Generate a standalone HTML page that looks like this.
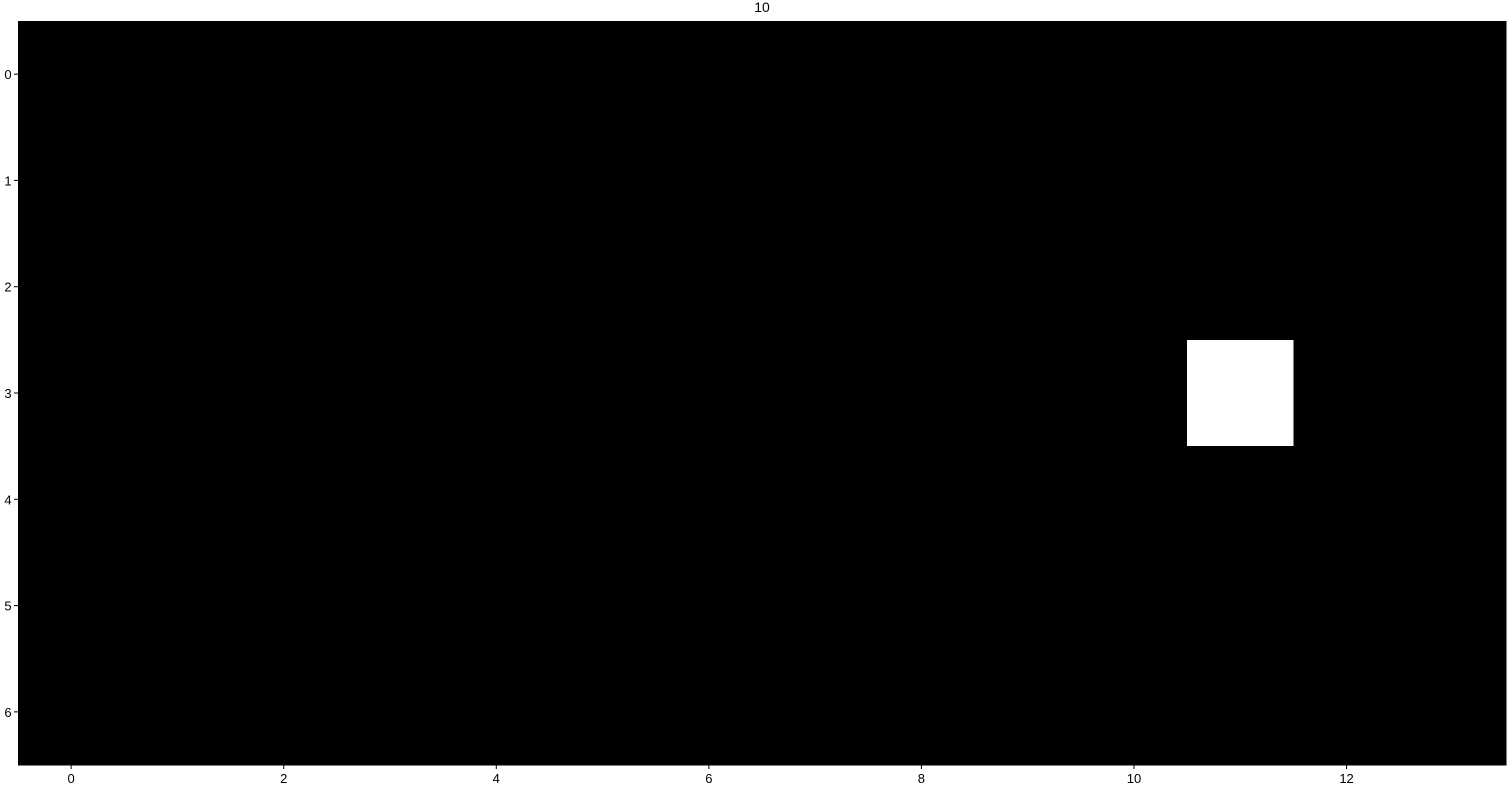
<!DOCTYPE html>
<html><head><meta charset="utf-8"><style>
html,body{margin:0;padding:0;background:#fff;width:1508px;height:785px;overflow:hidden}
text{font-family:"Liberation Sans",sans-serif;fill:#000}
</style></head><body>
<svg id="chart" width="1508" height="785" xmlns="http://www.w3.org/2000/svg">
<text x="762" y="12" font-size="14" text-anchor="middle">10</text>
<g id="cells"></g>
<g id="xticks"></g>
<g id="yticks"></g>
</svg>
<script>
const nCols = 14;
const nRows = 7;
const hotRows = [3];
const hotCols = [11];
const xTickLabels = [0, 2, 4, 6, 8, 10, 12];
const yTickLabels = [0, 1, 2, 3, 4, 5, 6];

const L = 18, T = 21, R = 1506, B = 765;
const cw = (R - L) / nCols, ch = (B - T) / nRows;
const xPos = c => L + (c + 0.5) * cw;
const yPos = r => T + (r + 0.5) * ch;
const NS = "http://www.w3.org/2000/svg";
const cells = document.getElementById('cells');
for (let r = 0; r < nRows; r++) {
  for (let c = 0; c < nCols; c++) {
    let hot = false;
    for (let k = 0; k < hotRows.length; k++) if (hotRows[k] === r && hotCols[k] === c) hot = true;
    const rect = document.createElementNS(NS, 'rect');
    rect.setAttribute('x', xPos(c) - cw / 2);
    rect.setAttribute('y', yPos(r) - ch / 2);
    rect.setAttribute('width', cw + 0.6);
    rect.setAttribute('height', ch + 0.6);
    rect.setAttribute('fill', hot ? '#fff' : '#000');
    rect.setAttribute('shape-rendering', 'crispEdges');
    
    
    cells.appendChild(rect);
  }
}
const xt = document.getElementById('xticks');
xTickLabels.forEach(v => {
  const x = xPos(v);
  const ln = document.createElementNS(NS, 'line');
  ln.setAttribute('x1', x); ln.setAttribute('x2', x);
  ln.setAttribute('y1', B); ln.setAttribute('y2', B + 4);
  ln.setAttribute('stroke', '#000');
  
  
  xt.appendChild(ln);
  const t = document.createElementNS(NS, 'text');
  t.setAttribute('x', x); t.setAttribute('y', B + 18);
  t.setAttribute('font-size', '13'); t.setAttribute('text-anchor', 'middle');
  t.textContent = v;
  
  
  xt.appendChild(t);
});
const yt = document.getElementById('yticks');
yTickLabels.forEach(v => {
  const y = yPos(v);
  const ln = document.createElementNS(NS, 'line');
  ln.setAttribute('x1', L - 4); ln.setAttribute('x2', L);
  ln.setAttribute('y1', y); ln.setAttribute('y2', y);
  ln.setAttribute('stroke', '#000');
  
  
  yt.appendChild(ln);
  const t = document.createElementNS(NS, 'text');
  t.setAttribute('x', 8); t.setAttribute('y', y + 5);
  t.setAttribute('font-size', '13'); t.setAttribute('text-anchor', 'middle');
  t.textContent = v;
  
  
  yt.appendChild(t);
});
</script>
</body></html>
